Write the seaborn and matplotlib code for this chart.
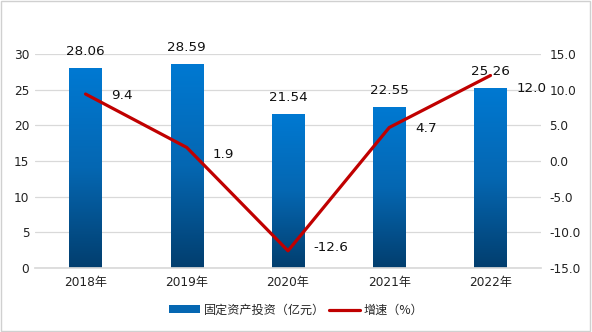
import numpy as np
import pandas as pd
import matplotlib
matplotlib.use("Agg")
import matplotlib.pyplot as plt
import seaborn as sns
from matplotlib.colors import LinearSegmentedColormap
from matplotlib.lines import Line2D
from matplotlib.patches import Patch, Rectangle

years = ["2018年", "2019年", "2020年", "2021年", "2022年"]
investment = [28.06, 28.59, 21.54, 22.55, 25.26]
growth = [9.4, 1.9, -12.6, 4.7, 12.0]
left_ticks = [0, 5, 10, 15, 20, 25, 30]
right_ticks = [-15.0, -10.0, -5.0, 0.0, 5.0, 10.0, 15.0]

sns.set_theme(style="white")
plt.rcParams["font.family"] = ["DejaVu Sans", "Noto Sans CJK SC"]

df = pd.DataFrame({"year": years, "investment": investment, "growth": growth})

fig = plt.figure(figsize=(5.92, 3.32), dpi=100)
ax = fig.add_axes([0.059, 0.193, 0.855, 0.644])

sns.barplot(data=df, x="year", y="investment", ax=ax, width=0.32,
            color="#0070C0", saturation=1, zorder=2)
ax.set_ylim(0, 30)
ax.set_xlim(-0.5, 4.5)
ax.set_yticks(left_ticks)
ax.set_yticklabels([str(t) for t in left_ticks], fontsize=8.7, color="#222222")
ax.set_xlabel("")
ax.set_ylabel("")
ax.tick_params(axis="x", labelsize=8.7, colors="#222222", length=0, pad=6)
ax.tick_params(axis="y", length=0, pad=4)
ax.grid(axis="y", color="#D9D9D9", linewidth=0.9, zorder=0)
for s in ["top", "left", "right"]:
    ax.spines[s].set_visible(False)
ax.spines["bottom"].set_color("#D9D9D9")

# vertical gradient fill for each bar
cmap = LinearSegmentedColormap.from_list("bar", ["#023E6E", "#0567B2", "#0079D2"])
grad = np.linspace(0, 1, 256).reshape(-1, 1)
for patch in list(ax.patches):
    x0, y0 = patch.get_x(), patch.get_y()
    w, h = patch.get_width(), patch.get_height()
    patch.set_facecolor("none")
    patch.set_edgecolor("none")
    im = ax.imshow(grad, cmap=cmap, origin="lower", aspect="auto",
                   extent=[x0, x0 + w, y0, y0 + h], zorder=2)
    clip = Rectangle((x0, y0), w, h, transform=ax.transData)
    im.set_clip_path(clip)
    ax.text(x0 + w / 2, y0 + h + 1.4, f"{h:.2f}", ha="center", va="bottom",
            fontsize=9.7, color="#111111", zorder=4)
ax.set_xlim(-0.5, 4.5)
ax.set_ylim(0, 30)

ax2 = ax.twinx()
sns.lineplot(data=df, x="year", y="growth", ax=ax2, color="#C00000",
             linewidth=2.3, sort=False, zorder=3)
ax2.set_ylim(-15, 15)
ax2.set_yticks(right_ticks)
ax2.set_yticklabels([f"{t:.1f}" for t in right_ticks], fontsize=8.7, color="#222222")
ax2.tick_params(axis="y", length=0, pad=6)
ax2.set_ylabel("")
ax2.set_xlabel("")
ax2.grid(False)
for s in ["top", "left", "right", "bottom"]:
    ax2.spines[s].set_visible(False)

label_dy = [-0.15, -1.0, 0.4, -0.2, -1.8]
for i, v in enumerate(growth):
    ax2.text(i + 0.255, v + label_dy[i], f"{v:.1f}", ha="left", va="center",
             fontsize=9.7, color="#111111", zorder=5)

handles = [Patch(facecolor="#0567B2", edgecolor="none"),
           Line2D([0], [0], color="#C00000", linewidth=2.3)]
fig.legend(handles, ["固定资产投资（亿元）", "增速（%）"], loc="center",
           bbox_to_anchor=(0.5, 0.066), ncol=2, frameon=False,
           handlelength=2.6, handleheight=0.6, columnspacing=0.3, handletextpad=0.3,
           prop={"family": ["Noto Sans CJK SC", "DejaVu Sans"], "size": 8.7})

fig.add_artist(Rectangle((0.002, 0.003), 0.995, 0.994, transform=fig.transFigure,
                         fill=False, edgecolor="#D0D0D0", linewidth=1.0))

fig.savefig("out.png", dpi=100)
